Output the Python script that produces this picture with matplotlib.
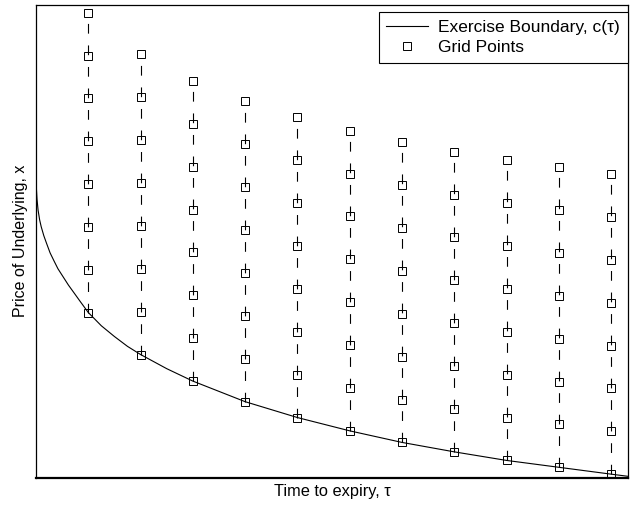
import numpy as np
import matplotlib.pyplot as plt

plt.rcParams['font.family'] = ['Liberation Sans', 'DejaVu Sans']
plt.rcParams['lines.scale_dashes'] = False

# exercise boundary (tau, c)
tau_curve = [0.0, 0.002, 0.005, 0.01, 0.02, 0.04, 0.07, 0.1, 0.15, 0.2, 0.27, 0.35,
             0.42, 0.52, 0.62, 0.75, 0.85, 1.0, 1.25, 1.5, 1.75, 2.0, 2.5,
             3.0, 4.0, 5.0, 6.0, 7.0, 8.0, 9.0, 10.0, 11.0, 11.32]
c_curve = [7.11, 6.95, 6.85, 6.71, 6.50, 6.25, 6.02, 5.86, 5.65, 5.48, 5.25, 5.05,
           4.88, 4.69, 4.50, 4.28, 4.11, 3.86, 3.55, 3.30, 3.07, 2.88, 2.55,
           2.26, 1.78, 1.41, 1.10, 0.83, 0.61, 0.41, 0.25, 0.09, 0.04]

# grid columns: time points and boundary value at each
tau_grid = [1, 2, 3, 4, 5, 6, 7, 8, 9, 10, 11]
c_grid = [3.85, 2.88, 2.26, 1.78, 1.41, 1.10, 0.83, 0.61, 0.41, 0.25, 0.09]
dx = 1.0
n_levels = 8

fig = plt.figure(figsize=(6.3, 5.08), dpi=100)
ax = fig.add_axes([0.0571, 0.059, 0.9397, 0.932])

ax.plot(tau_curve, c_curve, color='black', lw=0.8, label='Exercise Boundary, c(\u03c4)')

for i, (t, c) in enumerate(zip(tau_grid, c_grid)):
    ys = c + dx * np.arange(n_levels)
    ts = np.full(n_levels, t)
    ax.plot(ts, ys, color='black', lw=0.8, dashes=(7.0, 8.5))
    ax.plot(ts, ys, 's', ms=5.8, mfc='none', mec='black', mew=0.7,
            label='Grid Points' if i == 0 else None)

ax.set_xlim(0, 11.32)
ax.set_ylim(0, 11.04)
ax.set_xticks([])
ax.set_yticks([])
for s in ['left', 'top', 'right']:
    ax.spines[s].set_linewidth(0.9)
ax.spines['bottom'].set_linewidth(1.6)

ax.set_xlabel('Time to expiry, \u03c4', fontsize=11.8, labelpad=4)
ax.set_ylabel('Price of Underlying, x', fontsize=11.5, labelpad=6)

leg = ax.legend(loc='upper right', bbox_to_anchor=(1.0, 0.985), borderaxespad=0,
                fancybox=False, framealpha=1, edgecolor='black', fontsize=12.5,
                handlelength=2.4, handletextpad=0.6, borderpad=0.45, labelspacing=0.3)
leg.get_frame().set_linewidth(0.8)

fig.savefig('out.png', dpi=100)
